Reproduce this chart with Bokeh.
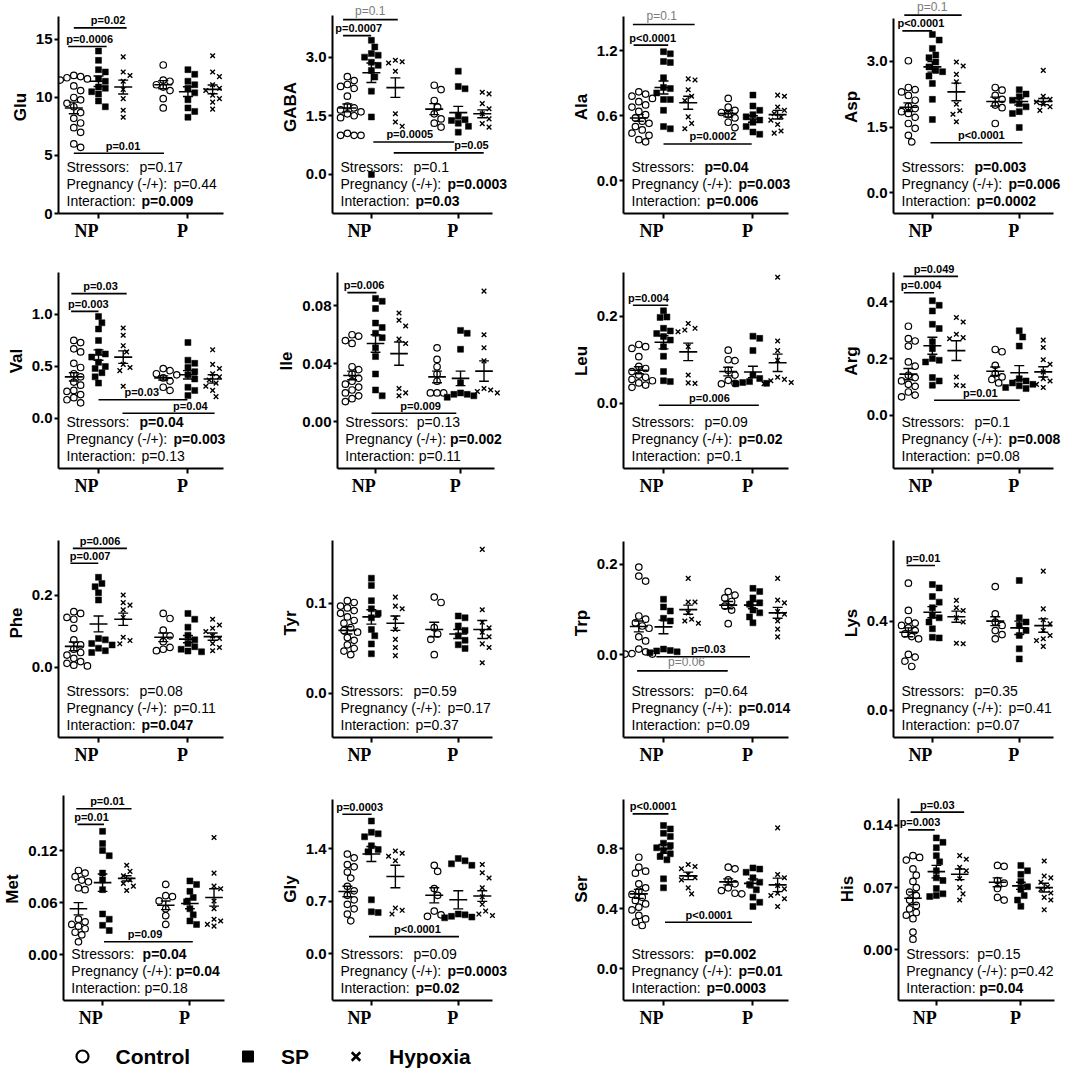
import numpy as np
from bokeh.plotting import figure
from bokeh.models import Label, FixedTicker, Range1d, PrintfTickFormatter, LinearAxis
from bokeh.layouts import row, column
from bokeh.embed import file_html
from bokeh.resources import INLINE

# ---------------- data ----------------
GROUPS = ["Control", "SP", "Hypoxia"]
STAGES = ["NP", "P"]
PREFIXES = ["Stressors:", "Pregnancy (-/+):", "Interaction:"]

# order of the six groups: NP Control, NP SP, NP Hypoxia, P Control, P SP, P Hypoxia
GLU = [[11.9, 11.8, 11.7, 11.6, 11.5, 11.0, 10.6, 10.0, 9.8, 9.5, 9.2, 8.7, 8.2, 7.8, 7.4, 7.0, 6.0, 5.7],
       [14.0, 13.2, 12.4, 12.2, 11.6, 11.4, 10.9, 10.8, 10.5, 10.3, 9.7, 9.2],
       [13.5, 12.2, 11.9, 11.4, 10.7, 9.9, 8.9, 8.3],
       [12.8, 11.5, 11.4, 11.1, 10.9, 10.6, 9.9, 9.1],
       [12.4, 12.0, 11.4, 11.1, 10.8, 10.4, 9.8, 9.1, 8.8, 8.3],
       [13.6, 12.2, 11.8, 11.1, 10.8, 10.6, 10.2, 9.9, 9.6, 9.0]]
GLU_MEAN = [9.1, 11.4, 10.9, 11.1, 10.5, 10.7]
GLU_SEM = [0.5, 0.45, 0.6, 0.35, 0.42, 0.38]

GABA = [[2.5, 2.4, 2.3, 2.25, 2.2, 2.0, 1.75, 1.7, 1.65, 1.6, 1.55, 1.5, 1.45, 1.05, 1.0, 1.0, 1.0],
        [3.43, 3.26, 3.09, 3.05, 3.0, 2.87, 2.79, 2.66, 2.49, 2.13, 1.47, 0.0],
        [2.92, 2.88, 2.85, 2.64, 1.55, 1.34, 1.23],
        [2.28, 2.17, 1.89, 1.72, 1.55, 1.42, 1.31, 1.21],
        [2.64, 2.25, 2.19, 1.51, 1.4, 1.38, 1.31, 1.23, 1.08],
        [2.1, 2.06, 1.81, 1.68, 1.55, 1.42, 1.3, 1.21]]
GABA_MEAN = [1.7, 2.6, 2.22, 1.67, 1.58, 1.55]
GABA_SEM = [0.1, 0.25, 0.25, 0.14, 0.16, 0.1]

ALA = [[0.82, 0.80, 0.78, 0.76, 0.73, 0.70, 0.68, 0.64, 0.61, 0.58, 0.55, 0.53, 0.50, 0.47, 0.44, 0.42, 0.38, 0.36],
       [1.19, 1.17, 1.1, 1.09, 0.95, 0.86, 0.85, 0.81, 0.75, 0.75, 0.65, 0.5, 0.48],
       [0.94, 0.93, 0.84, 0.78, 0.74, 0.59, 0.53, 0.48],
       [0.76, 0.68, 0.65, 0.63, 0.61, 0.58, 0.54, 0.49],
       [0.79, 0.69, 0.65, 0.61, 0.59, 0.56, 0.54, 0.5, 0.45, 0.43],
       [0.79, 0.78, 0.68, 0.65, 0.62, 0.59, 0.56, 0.52, 0.46, 0.44]]
ALA_MEAN = [0.58, 0.86, 0.72, 0.62, 0.57, 0.61]
ALA_SEM = [0.03, 0.06, 0.06, 0.03, 0.03, 0.04]

ASP = [[3.01, 2.4, 2.35, 2.3, 2.22, 2.11, 1.97, 1.92, 1.85, 1.81, 1.72, 1.58, 1.47, 1.31, 1.16],
       [3.61, 3.48, 3.29, 3.14, 3.08, 2.98, 2.87, 2.79, 2.76, 2.66, 2.49, 2.13, 1.67],
       [2.98, 2.89, 2.7, 2.53, 2.02, 1.87, 1.79, 1.62],
       [2.4, 2.34, 2.22, 2.13, 2.0, 1.94, 1.58],
       [2.35, 2.25, 2.19, 2.11, 2.03, 1.96, 1.85, 1.81, 1.49],
       [2.79, 2.2, 2.13, 2.07, 2.02, 1.96, 1.88]]
ASP_MEAN = [1.95, 2.87, 2.3, 2.08, 2.08, 2.08]
ASP_SEM = [0.1, 0.12, 0.2, 0.1, 0.08, 0.07]

VAL = [[0.75, 0.73, 0.67, 0.64, 0.53, 0.49, 0.43, 0.4, 0.35, 0.32, 0.27, 0.26, 0.23, 0.2, 0.18, 0.15],
       [0.98, 0.92, 0.86, 0.75, 0.64, 0.62, 0.59, 0.54, 0.5, 0.48, 0.44, 0.4, 0.34],
       [0.87, 0.8, 0.7, 0.64, 0.52, 0.49, 0.46, 0.31],
       [0.48, 0.46, 0.43, 0.42, 0.39, 0.36, 0.3, 0.27],
       [0.73, 0.56, 0.53, 0.49, 0.45, 0.42, 0.38, 0.3, 0.27, 0.22],
       [0.66, 0.52, 0.48, 0.43, 0.4, 0.37, 0.34, 0.31, 0.27, 0.21]]
VAL_MEAN = [0.4, 0.61, 0.59, 0.39, 0.42, 0.38]
VAL_SEM = [0.04, 0.05, 0.06, 0.02, 0.04, 0.04]

ILE = [[0.06, 0.059, 0.056, 0.054, 0.038, 0.036, 0.033, 0.03, 0.028, 0.026, 0.024, 0.022, 0.02, 0.018, 0.016, 0.014],
       [0.085, 0.083, 0.078, 0.068, 0.065, 0.061, 0.058, 0.051, 0.045, 0.033, 0.022, 0.018],
       [0.075, 0.07, 0.066, 0.057, 0.054, 0.023, 0.02, 0.018],
       [0.051, 0.043, 0.038, 0.033, 0.028, 0.02, 0.02, 0.02],
       [0.063, 0.061, 0.05, 0.027, 0.02, 0.019, 0.019, 0.018, 0.017],
       [0.09, 0.06, 0.051, 0.042, 0.023, 0.022, 0.021, 0.02]]
ILE_MEAN = [0.032, 0.054, 0.047, 0.031, 0.030, 0.035]
ILE_SEM = [0.003, 0.006, 0.008, 0.004, 0.005, 0.007]

LEU = [[0.135, 0.13, 0.126, 0.107, 0.085, 0.08, 0.073, 0.065, 0.06, 0.055, 0.052, 0.047, 0.042, 0.037],
       [0.212, 0.198, 0.197, 0.172, 0.166, 0.16, 0.153, 0.145, 0.13, 0.108, 0.073, 0.052, 0.05],
       [0.183, 0.172, 0.168, 0.164, 0.13, 0.065, 0.047, 0.046],
       [0.122, 0.1, 0.098, 0.076, 0.065, 0.053, 0.046, 0.045],
       [0.154, 0.149, 0.121, 0.065, 0.057, 0.05, 0.048, 0.046, 0.045],
       [0.289, 0.143, 0.121, 0.099, 0.06, 0.055, 0.052, 0.048, 0.045]]
LEU_MEAN = [0.076, 0.14, 0.118, 0.073, 0.072, 0.093]
LEU_SEM = [0.008, 0.015, 0.02, 0.01, 0.013, 0.02]

ARG = [[0.314, 0.27, 0.262, 0.244, 0.188, 0.173, 0.141, 0.133, 0.121, 0.109, 0.102, 0.082, 0.071, 0.065],
       [0.404, 0.388, 0.368, 0.321, 0.306, 0.259, 0.235, 0.2, 0.194, 0.188, 0.133, 0.121, 0.106],
       [0.345, 0.329, 0.286, 0.274, 0.27, 0.135, 0.106, 0.104],
       [0.232, 0.224, 0.176, 0.147, 0.135, 0.126, 0.114],
       [0.298, 0.276, 0.244, 0.129, 0.121, 0.114, 0.109, 0.104, 0.098, 0.094],
       [0.265, 0.239, 0.196, 0.18, 0.153, 0.129, 0.121, 0.109, 0.098]]
ARG_MEAN = [0.145, 0.245, 0.228, 0.155, 0.15, 0.153]
ARG_SEM = [0.02, 0.03, 0.035, 0.015, 0.025, 0.018]

PHE = [[0.154, 0.149, 0.138, 0.133, 0.108, 0.076, 0.062, 0.05, 0.041, 0.034, 0.025, 0.016, 0.011, 0.006, 0.004],
       [0.249, 0.232, 0.223, 0.206, 0.186, 0.08, 0.076, 0.066, 0.062, 0.053, 0.046, 0.041],
       [0.2, 0.179, 0.172, 0.159, 0.138, 0.083, 0.074, 0.065],
       [0.149, 0.135, 0.103, 0.087, 0.071, 0.055, 0.05, 0.046],
       [0.149, 0.133, 0.111, 0.089, 0.076, 0.066, 0.057, 0.05, 0.045, 0.043],
       [0.133, 0.117, 0.108, 0.099, 0.087, 0.08, 0.066, 0.055, 0.046]]
PHE_MEAN = [0.058, 0.12, 0.133, 0.083, 0.078, 0.085]
PHE_SEM = [0.012, 0.022, 0.017, 0.012, 0.01, 0.01]

TYR = [[0.103, 0.101, 0.097, 0.095, 0.092, 0.089, 0.085, 0.081, 0.078, 0.073, 0.07, 0.068, 0.062, 0.059, 0.054, 0.05, 0.047, 0.043],
       [0.128, 0.12, 0.103, 0.094, 0.089, 0.084, 0.071, 0.064, 0.055, 0.044],
       [0.107, 0.097, 0.094, 0.084, 0.071, 0.06, 0.051, 0.042],
       [0.107, 0.101, 0.073, 0.066, 0.06, 0.043],
       [0.086, 0.084, 0.075, 0.07, 0.064, 0.059, 0.054, 0.05],
       [0.16, 0.093, 0.079, 0.073, 0.068, 0.063, 0.055, 0.051, 0.034]]
TYR_MEAN = [0.07, 0.085, 0.078, 0.071, 0.066, 0.071]
TYR_SEM = [0.004, 0.008, 0.008, 0.008, 0.005, 0.01]

TRP = [[0.194, 0.174, 0.163, 0.086, 0.079, 0.071, 0.064, 0.059, 0.04, 0.031, 0.013, 0.007, 0.003, 0.002, 0.002],
       [0.123, 0.106, 0.097, 0.081, 0.075, 0.013, 0.01, 0.009, 0.007, 0.005],
       [0.169, 0.117, 0.117, 0.093, 0.079, 0.075, 0.07],
       [0.14, 0.132, 0.126, 0.118, 0.108, 0.099, 0.069],
       [0.147, 0.14, 0.126, 0.115, 0.112, 0.099, 0.093, 0.084, 0.071],
       [0.169, 0.121, 0.115, 0.096, 0.09, 0.075, 0.057, 0.04]]
TRP_MEAN = [0.063, 0.062, 0.1, 0.11, 0.11, 0.093]
TRP_SEM = [0.012, 0.015, 0.01, 0.008, 0.008, 0.012]

LYS = [[0.57, 0.448, 0.403, 0.391, 0.381, 0.37, 0.358, 0.343, 0.331, 0.321, 0.251, 0.239, 0.221, 0.197],
       [0.564, 0.549, 0.51, 0.485, 0.46, 0.425, 0.415, 0.396, 0.366, 0.328, 0.325],
       [0.493, 0.46, 0.448, 0.415, 0.396, 0.301, 0.299],
       [0.555, 0.433, 0.396, 0.381, 0.358, 0.34, 0.321],
       [0.582, 0.415, 0.396, 0.381, 0.358, 0.336, 0.276, 0.231],
       [0.624, 0.455, 0.406, 0.388, 0.358, 0.336, 0.321, 0.313, 0.287]]
LYS_MEAN = [0.35, 0.44, 0.42, 0.4, 0.37, 0.38]
LYS_SEM = [0.02, 0.025, 0.025, 0.02, 0.03, 0.03]

MET = [[0.097, 0.094, 0.09, 0.086, 0.084, 0.077, 0.075, 0.041, 0.038, 0.035, 0.033, 0.03, 0.026, 0.023, 0.015],
       [0.142, 0.128, 0.12, 0.114, 0.094, 0.086, 0.075, 0.047, 0.041, 0.034, 0.028],
       [0.103, 0.096, 0.091, 0.086, 0.082, 0.079, 0.074],
       [0.081, 0.068, 0.067, 0.062, 0.053, 0.045, 0.035],
       [0.085, 0.081, 0.073, 0.066, 0.061, 0.053, 0.046, 0.039, 0.035],
       [0.135, 0.094, 0.079, 0.076, 0.062, 0.053, 0.041, 0.039, 0.035, 0.033]]
MET_MEAN = [0.053, 0.083, 0.088, 0.057, 0.059, 0.066]
MET_SEM = [0.007, 0.01, 0.003, 0.005, 0.006, 0.01]

GLY = [[1.33, 1.28, 1.19, 1.16, 1.09, 1.01, 0.9, 0.84, 0.78, 0.72, 0.66, 0.6, 0.53, 0.44],
       [1.77, 1.62, 1.6, 1.56, 1.44, 1.39, 1.36, 0.72, 0.56, 0.55],
       [1.37, 1.34, 1.3, 1.24, 0.61, 0.58, 0.53],
       [1.18, 1.1, 0.87, 0.78, 0.57, 0.52, 0.5],
       [1.27, 1.24, 1.2, 1.18, 0.53, 0.52, 0.5, 0.49, 0.48],
       [1.19, 1.08, 1.01, 0.88, 0.76, 0.66, 0.57, 0.53, 0.51]]
GLY_MEAN = [0.83, 1.33, 1.03, 0.78, 0.72, 0.77]
GLY_SEM = [0.07, 0.1, 0.15, 0.1, 0.12, 0.07]

SER = [[0.744, 0.678, 0.651, 0.638, 0.567, 0.54, 0.518, 0.496, 0.478, 0.456, 0.433, 0.411, 0.393, 0.356, 0.333, 0.311, 0.289],
       [0.956, 0.933, 0.904, 0.882, 0.838, 0.822, 0.807, 0.789, 0.767, 0.749, 0.727, 0.6, 0.54],
       [0.696, 0.682, 0.667, 0.629, 0.607, 0.593, 0.54, 0.5],
       [0.678, 0.667, 0.593, 0.567, 0.54, 0.522, 0.504, 0.5],
       [0.673, 0.665, 0.644, 0.607, 0.578, 0.562, 0.527, 0.478, 0.444, 0.416],
       [0.94, 0.629, 0.607, 0.556, 0.533, 0.504, 0.489, 0.467, 0.416]]
SER_MEAN = [0.5, 0.8, 0.62, 0.58, 0.57, 0.56]
SER_SEM = [0.03, 0.03, 0.025, 0.02, 0.03, 0.045]

HIS = [[0.106, 0.104, 0.101, 0.091, 0.084, 0.077, 0.07, 0.065, 0.061, 0.056, 0.05, 0.046, 0.042, 0.039, 0.035, 0.02, 0.012],
       [0.126, 0.121, 0.115, 0.106, 0.099, 0.089, 0.081, 0.078, 0.069, 0.063, 0.061, 0.06],
       [0.106, 0.102, 0.093, 0.089, 0.08, 0.07, 0.063, 0.056],
       [0.095, 0.094, 0.078, 0.075, 0.069, 0.059, 0.056],
       [0.095, 0.089, 0.085, 0.077, 0.071, 0.068, 0.061, 0.056, 0.049],
       [0.1, 0.083, 0.081, 0.076, 0.071, 0.068, 0.064, 0.059, 0.056, 0.045]]
HIS_MEAN = [0.058, 0.088, 0.085, 0.076, 0.072, 0.07]
HIS_SEM = [0.007, 0.007, 0.006, 0.005, 0.004, 0.005]

# ANOVA p values: (text, significant)
STATS = {
    "Glu": [("p=0.17", 0), ("p=0.44", 0), ("p=0.009", 1)],
    "GABA": [("p=0.1", 0), ("p=0.0003", 1), ("p=0.03", 1)],
    "Ala": [("p=0.04", 1), ("p=0.003", 1), ("p=0.006", 1)],
    "Asp": [("p=0.003", 1), ("p=0.006", 1), ("p=0.0002", 1)],
    "Val": [("p=0.04", 1), ("p=0.003", 1), ("p=0.13", 0)],
    "Ile": [("p=0.13", 0), ("p=0.002", 1), ("p=0.11", 0)],
    "Leu": [("p=0.09", 0), ("p=0.02", 1), ("p=0.1", 0)],
    "Arg": [("p=0.1", 0), ("p=0.008", 1), ("p=0.08", 0)],
    "Phe": [("p=0.08", 0), ("p=0.11", 0), ("p=0.047", 1)],
    "Tyr": [("p=0.59", 0), ("p=0.17", 0), ("p=0.37", 0)],
    "Trp": [("p=0.64", 0), ("p=0.014", 1), ("p=0.09", 0)],
    "Lys": [("p=0.35", 0), ("p=0.41", 0), ("p=0.07", 0)],
    "Met": [("p=0.04", 1), ("p=0.04", 1), ("p=0.18", 0)],
    "Gly": [("p=0.09", 0), ("p=0.0003", 1), ("p=0.02", 1)],
    "Ser": [("p=0.002", 1), ("p=0.01", 1), ("p=0.0003", 1)],
    "His": [("p=0.15", 0), ("p=0.42", 0), ("p=0.04", 1)],
}

# pairwise comparisons: (from x, to x, y level, label, faint, label x)
SIGS = {
    "Glu": [(0.0, 2.14, 16.0, "p=0.02", 0, 1.39), (-0.23, 1.33, 14.4, "p=0.0006", 0, 0.64),
            (0.0, 3.65, 5.2, "p=0.01", 0, 1.99)],
    "GABA": [(-0.18, 2.1, 3.96, "p=0.1", 1, 0.95), (-0.18, 0.99, 3.55, "p=0.0007", 0, 0.47),
             (1.08, 4.45, 0.83, "p=0.0005", 0, 2.6), (1.93, 5.68, 0.55, "p=0.05", 0, 5.17)],
    "Ala": [(-0.24, 2.26, 1.44, "p=0.1", 1, 0.93), (-0.21, 1.19, 1.25, "p<0.0001", 0, 0.56),
            (1.0, 4.57, 0.34, "p=0.0002", 0, 3.0)],
    "Asp": [(-0.17, 2.22, 4.05, "p=0.1", 1, 0.99), (-0.25, 0.99, 3.69, "p<0.0001", 0, 0.52),
            (0.92, 4.75, 1.14, "p<0.0001", 0, 3.04)],
    "Val": [(-0.1, 2.14, 1.2, "p=0.03", 0, 1.08), (-0.11, 1.0, 1.03, "p=0.003", 0, 0.59),
            (1.0, 4.6, 0.18, "p=0.03", 0, 2.75), (1.97, 5.7, 0.05, "p=0.04", 0, 4.72)],
    "Ile": [(-0.2, 1.04, 0.089, "p=0.006", 0, 0.51), (0.83, 4.44, 0.006, "p=0.009", 0, 2.92)],
    "Leu": [(-0.24, 1.19, 0.225, "p=0.004", 0, 0.39), (0.81, 4.86, -0.004, "p=0.006", 0, 2.86)],
    "Arg": [(-0.21, 2.07, 0.49, "p=0.049", 0, 1.07), (-0.19, 1.07, 0.432, "p=0.004", 0, 0.53),
            (1.07, 4.64, 0.053, "p=0.01", 0, 3.0)],
    "Phe": [(-0.04, 2.15, 0.329, "p=0.006", 0, 1.06), (-0.14, 0.99, 0.288, "p=0.007", 0, 0.66)],
    "Tyr": [],
    "Trp": [(0.71, 4.5, -0.004, "p=0.03", 0, 2.81), (-0.07, 3.6, -0.035, "p=0.06", 1, 1.93)],
    "Lys": [(-0.07, 1.11, 0.649, "p=0.01", 0, 0.61)],
    "Met": [(-0.09, 2.2, 0.168, "p=0.01", 0, 1.2), (-0.04, 1.06, 0.15, "p=0.01", 0, 0.54),
            (1.06, 4.74, 0.015, "p=0.09", 0, 2.76)],
    "Gly": [(-0.21, 1.01, 1.86, "p=0.0003", 0, 0.51), (0.9, 4.65, 0.23, "p<0.0001", 0, 2.92)],
    "Ser": [(-0.25, 1.2, 1.033, "p<0.0001", 0, 0.58), (1.06, 4.58, 0.311, "p<0.0001", 0, 2.84)],
    "His": [(-0.1, 2.19, 0.155, "p=0.03", 0, 1.04), (-0.21, 0.93, 0.135, "p=0.003", 0, 0.3)],
}

# y axis: (value at x axis, value per pixel, top of axis line, ticks, tick format)
YAXES = {
    "Glu": (0.0, 0.0862, 17.0, [0, 5, 10, 15], "%d"),
    "GABA": (-1.0, 0.02558, 4.07, [0, 1.5, 3.0], "%.1f"),
    "Ala": (-0.30, 0.009208, 1.51, [0, 0.6, 1.2], "%.1f"),
    "Asp": (-0.47, 0.02278, 3.97, [0, 1.5, 3.0], "%.1f"),
    "Val": (-0.481, 0.009615, 1.40, [0, 0.5, 1.0], "%.1f"),
    "Ile": (-0.032, 0.0006878, 0.103, [0, 0.04, 0.08], "%.2f"),
    "Leu": (-0.149, 0.00229, 0.299, [0, 0.2], "%.1f"),
    "Arg": (-0.188, 0.003529, 0.502, [0, 0.2, 0.4], "%.1f"),
    "Phe": (-0.194, 0.002765, 0.352, [0, 0.2], "%.1f"),
    "Tyr": (-0.049, 0.001111, 0.17, [0, 0.1], "%.1f"),
    "Trp": (-0.182, 0.002206, 0.251, [0, 0.2], "%.1f"),
    "Lys": (-0.121, 0.004478, 0.761, [0, 0.4], "%.1f"),
    "Met": (-0.0525, 0.00115, 0.183, [0, 0.06, 0.12], "%.2f"),
    "Gly": (-0.622, 0.01333, 2.06, [0, 0.7, 1.4], "%.1f"),
    "Ser": (-0.211, 0.006667, 1.13, [0, 0.4, 0.8], "%.1f"),
    "His": (-0.0571, 0.001126, 0.17, [0, 0.07, 0.14], "%.2f"),
}

PANELS = [
    [("Glu", GLU, GLU_MEAN, GLU_SEM), ("GABA", GABA, GABA_MEAN, GABA_SEM),
     ("Ala", ALA, ALA_MEAN, ALA_SEM), ("Asp", ASP, ASP_MEAN, ASP_SEM)],
    [("Val", VAL, VAL_MEAN, VAL_SEM), ("Ile", ILE, ILE_MEAN, ILE_SEM),
     ("Leu", LEU, LEU_MEAN, LEU_SEM), ("Arg", ARG, ARG_MEAN, ARG_SEM)],
    [("Phe", PHE, PHE_MEAN, PHE_SEM), ("Tyr", TYR, TYR_MEAN, TYR_SEM),
     ("Trp", TRP, TRP_MEAN, TRP_SEM), ("Lys", LYS, LYS_MEAN, LYS_SEM)],
    [("Met", MET, MET_MEAN, MET_SEM), ("Gly", GLY, GLY_MEAN, GLY_SEM),
     ("Ser", SER, SER_MEAN, SER_SEM), ("His", HIS, HIS_MEAN, HIS_SEM)],
]

# ---------------- layout / style ----------------
GROUP_X = [0.0, 1.0, 2.0, 3.62, 4.62, 5.62]
STAGE_X = [1.0, 4.62]
STAGE_LABEL_SHIFT = [-12.0, -5.5]      # px: labels end at their tick, as in the original
X0, X_AXIS_END = -0.62, 6.06
BORDER_L = 58
BORDER_R = 2
COL_W = [274, 291, 270, 245]
COL_PPU = [24.7, 24.0, 24.7, 24.0]
ROW_FH = [213, 215, 229, 223]
ROW_B = 40
SANS = "Liberation Sans"
SERIF = "Liberation Serif"
GRAY = "#7a7a7a"


def swarm_offsets(vals, vpp, ppu, diam=6.8):
    ys = np.asarray(vals, float) / vpp
    order = np.argsort(-ys, kind="stable")
    placed = []
    offs = np.zeros(len(ys))
    step = diam / 2.0
    for i in order:
        k = 0
        while True:
            m = (k + 1) // 2
            cand = 0.0 if k == 0 else m * step * (1 if k % 2 == 1 else -1)
            if all((cand - px) ** 2 + (ys[i] - py) ** 2 >= diam ** 2 for px, py in placed):
                break
            k += 1
        placed.append((cand, ys[i]))
        offs[i] = cand / ppu
    return offs


def make_panel(name, pts, means, sems, ci, ri):
    ylo, vpp, ytop, ticks, fmt = YAXES[name]
    W = COL_W[ci]
    fw = W - BORDER_L - BORDER_R
    fh = ROW_FH[ri]
    H = fh + ROW_B
    yhi = ylo + fh * vpp
    ppu = COL_PPU[ci]
    x1 = X0 + fw / ppu
    p = figure(width=W, height=H, x_range=Range1d(X0, x1), y_range=Range1d(ylo, yhi),
               output_backend="svg", toolbar_location=None,
               min_border_left=BORDER_L, min_border_right=BORDER_R,
               min_border_top=0, min_border_bottom=ROW_B)
    p.outline_line_color = None
    p.xgrid.visible = False
    p.ygrid.visible = False
    p.background_fill_color = None
    p.border_fill_color = None

    # y axis
    ya = p.yaxis[0]
    ya.ticker = FixedTicker(ticks=ticks)
    ya.formatter = PrintfTickFormatter(format=fmt)
    ya.bounds = (ylo, ytop)
    ya.axis_label = name
    ya.axis_label_text_font = SANS
    ya.axis_label_text_font_style = "bold"
    ya.axis_label_text_font_size = "17px"
    ya.axis_label_text_color = "black"
    ya.axis_label_standoff = 3
    ya.major_label_text_font = SANS
    ya.major_label_text_font_style = "bold"
    ya.major_label_text_font_size = "15px"
    ya.major_label_text_color = "black"
    ya.major_label_standoff = 2
    ya.axis_line_width = 2
    ya.major_tick_line_width = 2
    ya.major_tick_out = 4
    ya.major_tick_in = 0
    ya.minor_tick_line_color = None

    # x axis: line and ticks
    xa = p.xaxis[0]
    xa.ticker = FixedTicker(ticks=STAGE_X)
    xa.bounds = (X0, X_AXIS_END)
    xa.major_label_text_font_size = "0px"
    xa.major_label_text_color = None
    xa.major_label_standoff = 0
    xa.axis_line_width = 2
    xa.major_tick_line_width = 2
    xa.major_tick_out = 5
    xa.major_tick_in = 0
    xa.minor_tick_line_color = None
    # x axis: stage labels (ending at their ticks, as in the original)
    lab_pos = [round(sx + sh / ppu, 3) for sx, sh in zip(STAGE_X, STAGE_LABEL_SHIFT)]
    xb = LinearAxis(ticker=FixedTicker(ticks=lab_pos),
                    major_label_overrides={v: s for v, s in zip(lab_pos, STAGES)},
                    axis_line_color=None, major_tick_line_color=None,
                    major_tick_out=0, major_tick_in=0,
                    minor_tick_line_color=None, minor_tick_out=0, minor_tick_in=0,
                    major_label_standoff=2,
                    major_label_text_font=SERIF, major_label_text_font_style="bold",
                    major_label_text_font_size="18px", major_label_text_color="black")
    p.add_layout(xb, "below")

    # points
    for gi, vals in enumerate(pts):
        xs = GROUP_X[gi] + swarm_offsets(vals, vpp, ppu)
        kind = gi % 3
        if kind == 0:
            p.scatter(xs, vals, marker="circle", size=6.5, fill_color="white",
                      line_color="black", line_width=1.2)
        elif kind == 1:
            p.scatter(xs, vals, marker="square", size=6, fill_color="black",
                      line_color="black", line_width=0.5)
        else:
            p.scatter(xs, vals, marker="x", size=6.5, line_color="black", line_width=1.4)

    # mean +/- SEM
    gx = np.array(GROUP_X)
    m = np.array(means)
    s = np.array(sems)
    hw = 9.0 / ppu
    cw = 5.0 / ppu
    p.segment(gx - hw, m, gx + hw, m, line_color="black", line_width=1.6)
    p.segment(gx, m - s, gx, m + s, line_color="black", line_width=1.4)
    p.segment(gx - cw, m + s, gx + cw, m + s, line_color="black", line_width=1.4)
    p.segment(gx - cw, m - s, gx + cw, m - s, line_color="black", line_width=1.4)

    # pairwise comparison bars
    for (a, b, yl, txt, faint, tx) in SIGS[name]:
        p.segment([a], [yl], [b], [yl], line_color="black", line_width=1.6)
        p.add_layout(Label(x=tx, y=yl + 1.5 * vpp, text=txt, text_align="center",
                           text_baseline="bottom", text_font=SANS,
                           text_font_style="normal" if faint else "bold",
                           text_font_size="12px" if faint else "11px",
                           text_color=GRAY if faint else "black"))

    # ANOVA summary
    xl = X0 + 8.0 / ppu
    poff = [73, 107, 75]
    yoff = [47, 30, 13]
    for li, (pre, (pt, sig)) in enumerate(zip(PREFIXES, STATS[name])):
        yy = ylo + yoff[li] * vpp
        p.add_layout(Label(x=xl, y=yy, text=pre, text_align="left", text_baseline="middle",
                           text_font=SANS, text_font_size="14px", text_color="black"))
        p.add_layout(Label(x=xl + poff[li] / ppu, y=yy, text=pt, text_align="left",
                           text_baseline="middle", text_font=SANS,
                           text_font_style="bold" if sig else "normal",
                           text_font_size="14px", text_color="black"))
    return p


rows = []
for ri, prow in enumerate(PANELS):
    figs = [make_panel(nm, pts, mn, se, ci, ri) for ci, (nm, pts, mn, se) in enumerate(prow)]
    rows.append(row(*figs))

# legend
TOTAL_W = sum(COL_W)
LEG_H = 30
leg = figure(width=TOTAL_W, height=LEG_H, x_range=Range1d(0, TOTAL_W), y_range=Range1d(0, LEG_H),
             output_backend="svg", toolbar_location=None, x_axis_location=None,
             y_axis_location=None, min_border=0)
leg.outline_line_color = None
leg.xgrid.visible = False
leg.ygrid.visible = False
pos = 82.0
yc = LEG_H / 2.0 - 1
for gi, g in enumerate(GROUPS):
    if gi == 0:
        leg.scatter([pos], [yc], marker="circle", size=12, fill_color="white",
                    line_color="black", line_width=2.2)
    elif gi == 1:
        leg.scatter([pos], [yc], marker="square", size=11, fill_color="black", line_color="black")
    else:
        leg.scatter([pos], [yc], marker="x", size=12, line_color="black", line_width=2.6)
    leg.add_layout(Label(x=pos + 33, y=yc, text=g, text_align="left", text_baseline="middle",
                         text_font=SANS, text_font_style="bold", text_font_size="21px",
                         text_color="black"))
    pos = pos + 33 + 11.5 * len(g) + 5 + 47

layout = column(*rows, leg)
open("out.html", "w").write(file_html(layout, INLINE))
